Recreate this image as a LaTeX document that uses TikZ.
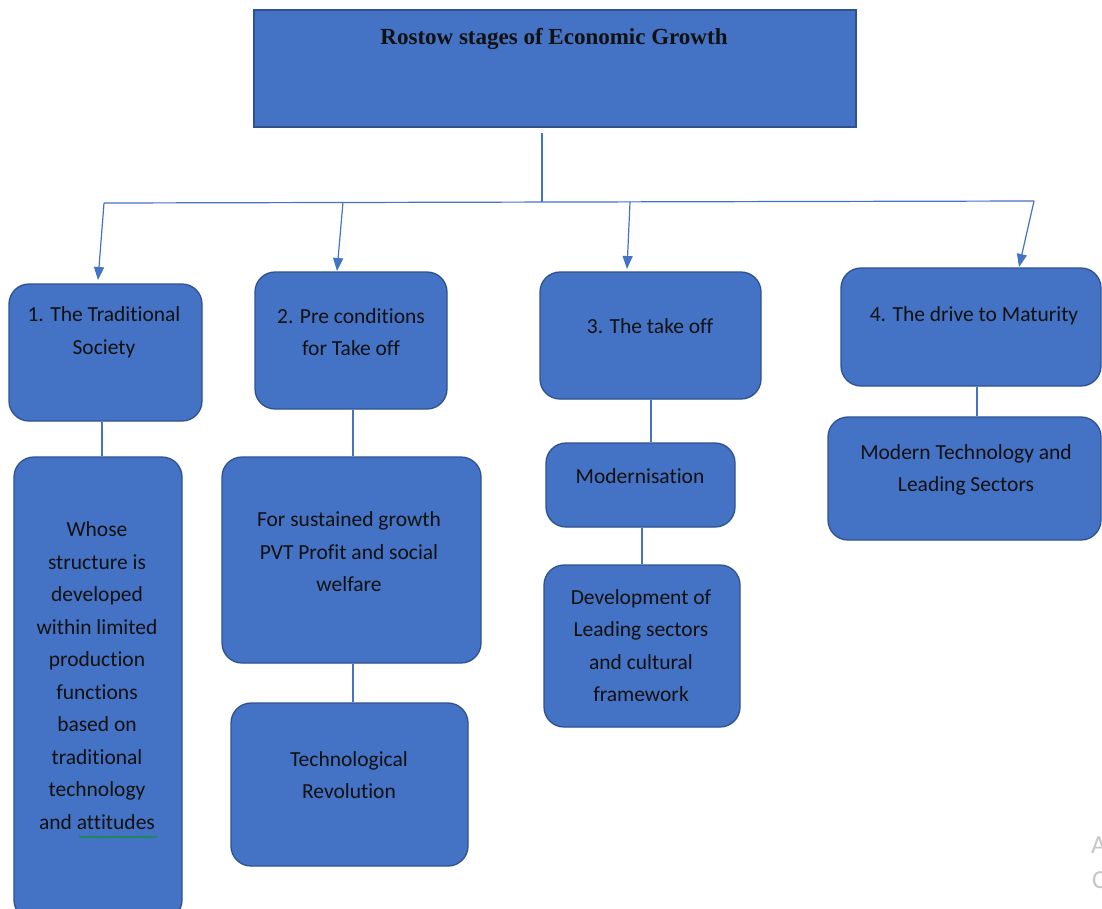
\documentclass[tikz,border=0pt]{standalone}
\usepackage{fontspec}
\setmainfont{Carlito}[Ligatures=NoCommon]
\newfontfamily\titlefont{Liberation Serif}
\usetikzlibrary{arrows.meta,decorations.pathmorphing}
\definecolor{boxfill}{HTML}{4472C4}
\definecolor{boxedge}{HTML}{2F528F}
\definecolor{linec}{HTML}{4472C4}
\definecolor{txtc}{HTML}{111111}
\begin{document}
\begin{tikzpicture}[x=1pt,y=-1pt,
  box/.style={draw=boxedge, line width=1.3pt, fill=boxfill, rounded corners=20pt, inner sep=0pt},
  titlebox/.style={draw=boxedge, line width=1.3pt, fill=boxfill, inner sep=0pt},
  txt/.style={align=center, font=\fontsize{21.5}{32.5}\selectfont, text=txtc, inner sep=0pt},
  link/.style={draw=linec, line width=1.2pt},
  arr/.style={link, -{Triangle[length=13pt,width=10pt]}}]
\useasboundingbox (0,0) rectangle (1102,908);
\clip (0,0) rectangle (1102,908);
\fill[white] (0,0) rectangle (1102,908);

% title
\node[titlebox, minimum width=602pt, minimum height=117pt] (title) at (555,68.5) {};
\node[inner sep=0pt, text=txtc, font=\titlefont\bfseries\fontsize{23}{28}\selectfont] (titletxt) at (554,38.5) {Rostow stages of Economic Growth};

% stage boxes
\node[box, minimum width=193pt, minimum height=137pt] (b1) at (105.5,352.5) {};
\node[box, minimum width=192pt, minimum height=137pt] (b2) at (351,340.5) {};
\node[box, minimum width=221pt, minimum height=127pt] (b3) at (650.5,335.5) {};
\node[box, minimum width=260pt, minimum height=118pt] (b4) at (971,327) {};

% detail boxes
\node[box, minimum width=168pt, minimum height=463pt] (w1) at (98,688.5) {};
\node[box, minimum width=259pt, minimum height=206pt] (s2) at (351.5,560) {};
\node[box, minimum width=237pt, minimum height=163pt] (t2) at (349.5,784.5) {};
\node[box, minimum width=189pt, minimum height=84pt] (m3) at (640.5,485) {};
\node[box, minimum width=196pt, minimum height=162pt] (d3) at (642,646) {};
\node[box, minimum width=273pt, minimum height=123pt] (mt4) at (964.5,478.5) {};

% texts
\node[txt] (b1t) at (104,332.5) {1. The Traditional\\Society};
\node[txt] (b2t) at (351,332) {2. Pre conditions\\for Take off};
\node[txt] (b3t) at (650,326) {3. The take off};
\node[txt] (b4t) at (974,316) {4. The drive to Maturity};
\node[txt] (w1t) at (97,675.5) {Whose\\structure is\\developed\\within limited\\production\\functions\\based on\\traditional\\technology\\and attitudes};
\node[txt] (s2t) at (349,552) {For sustained growth\\PVT Profit and social\\welfare};
\node[txt] (t2t) at (349,775) {Technological\\Revolution};
\node[txt] (m3t) at (640,476) {Modernisation};
\node[txt] (d3t) at (641,645.5) {Development of\\Leading sectors\\and cultural\\framework};
\node[txt] (mt4t) at (966,470) {Modern Technology and\\Leading Sectors};

% spelling squiggle
\draw[green!60!black, line width=0.6pt, decorate, decoration={snake, amplitude=0.8pt, segment length=3pt}] (79,837) -- (157,837);

% watermark fragments
\node[anchor=west, inner sep=0pt, text=gray!45, font=\fontsize{26}{26}\selectfont] (wmA) at (1091,845) {A};
\node[anchor=west, inner sep=0pt, text=gray!45, font=\fontsize{26}{26}\selectfont] (wmC) at (1092,880) {C};

% connectors
\coordinate (tdown) at (542,133);
\coordinate (busc) at (542,202);
\coordinate (busL) at (104,203);
\coordinate (busR) at (1034,201);
\coordinate (bus2) at (343,202);
\coordinate (bus3) at (630,202);
\coordinate (a1) at (98,280);
\coordinate (a2) at (337,271);
\coordinate (a3) at (627,269);
\coordinate (a4) at (1019,267);
\draw[link] (tdown) -- (busc);
\draw[link] (busL) -- (busR);
\draw[arr] (busL) -- (a1);
\draw[arr] (bus2) -- (a2);
\draw[arr] (bus3) -- (a3);
\draw[arr] (busR) -- (a4);

\draw[link] (b1.south -| 102,0) -- (w1.north -| 102,0);
\draw[link] (b2.south -| 353,0) -- (s2.north -| 353,0);
\draw[link] (s2.south -| 353,0) -- (t2.north -| 353,0);
\draw[link] (b3.south -| 651,0) -- (m3.north -| 651,0);
\draw[link] (m3.south -| 642,0) -- (d3.north -| 642,0);
\draw[link] (b4.south -| 977,0) -- (mt4.north -| 977,0);
\end{tikzpicture}
\end{document}
